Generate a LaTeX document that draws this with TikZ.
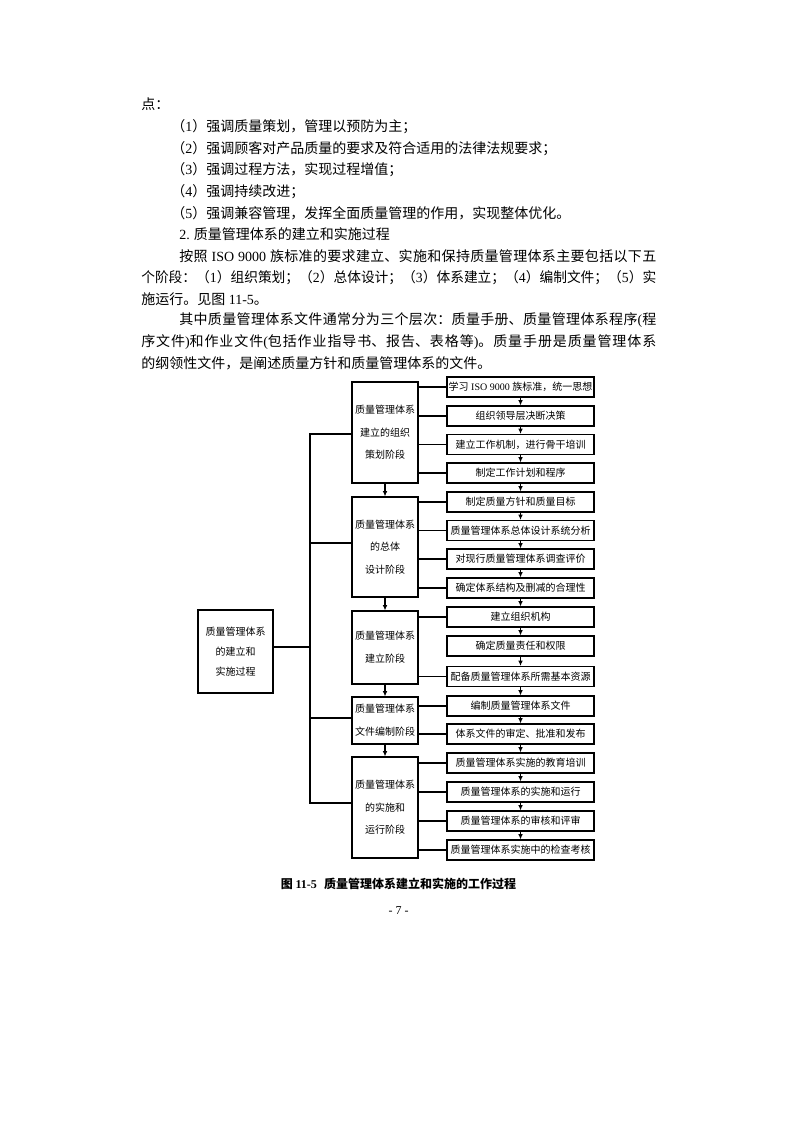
\documentclass[tikz,border=0pt]{standalone}
\usepackage{fontspec}
\usepackage{graphicx}
\setmainfont{Noto Sans CJK SC}
\newfontfamily\tnr{Liberation Serif}
\usetikzlibrary{arrows.meta}
\XeTeXlinebreaklocale "zh"
\XeTeXlinebreakskip=0pt plus 1pt
\newsavebox\jbox
\newcommand\jline[2]{\sbox\jbox{#2}\ifdim\wd\jbox>#1\relax\resizebox{#1}{\height}{\usebox\jbox}\else\parbox{#1}{\tolerance=9999\emergencystretch=0pt\parfillskip=0pt\relax #2}\fi}
\begin{document}
\begin{tikzpicture}[x=0.75pt,y=-0.75pt,
  every node/.style={inner sep=0pt},
  body/.style={anchor=west, font=\fontsize{10.5}{12}\selectfont},
  stagebox/.style={draw, line width=0.8pt, minimum width=49.5pt, align=center, font=\fontsize{7.5}{17}\selectfont},
  mainbox/.style={draw, line width=0.8pt, minimum width=56.25pt, minimum height=62.25pt, align=center, font=\fontsize{7.5}{15}\selectfont},
  rowbox/.style={draw, line width=0.8pt, minimum width=110.25pt, minimum height=15pt, font=\fontsize{7.5}{9}\selectfont},
  ln/.style={line width=0.8pt},
  arr/.style={line width=0.8pt, -{Latex[length=4pt,width=3.5pt]}},
]
\fill[white] (0,0) rectangle (794,1123);
\useasboundingbox (0,0) rectangle (794,1123);

% ---- body text ----
\node[body] (t0) at (141,104) {点：};
\node[body] (t1) at (171,127) {（{\tnr 1}）强调质量策划，管理以预防为主；};
\node[body] (t2) at (171,148.5) {（{\tnr 2}）强调顾客对产品质量的要求及符合适用的法律法规要求；};
\node[body] (t3) at (171,170) {（{\tnr 3}）强调过程方法，实现过程增值；};
\node[body] (t4) at (171,191.5) {（{\tnr 4}）强调持续改进；};
\node[body] (t5) at (171,213) {（{\tnr 5}）强调兼容管理，发挥全面质量管理的作用，实现整体优化。};
\node[body] (t6) at (179,234.5) {{\tnr 2.} 质量管理体系的建立和实施过程};
\node[body] (t7) at (179,256) {\jline{357.75pt}{按照\hspace{3pt}{\tnr ISO 9000}\hspace{3pt}族标准的要求建立、实施和保持质量管理体系主要包括以下五}};
\node[body] (t8) at (141,277.5) {\jline{386.25pt}{个阶段：（{\tnr 1}）组织策划；（{\tnr 2}）总体设计；（{\tnr 3}）体系建立；（{\tnr 4}）编制文件；（{\tnr 5}）实}};
\node[body] (t9) at (141,299) {施运行。见图{\tnr\ 11-5}。};
\node[body] (t10) at (179,320.5) {\jline{357.75pt}{其中质量管理体系文件通常分为三个层次：质量手册、质量管理体系程序{\tnr (}程}};
\node[body] (t11) at (141,342) {\jline{386.25pt}{序文件{\tnr )}和作业文件{\tnr (}包括作业指导书、报告、表格等{\tnr )}。质量手册是质量管理体系}};
\node[body] (t12) at (141,363.5) {的纲领性文件，是阐述质量方针和质量管理体系的文件。};

% ---- main box ----
\node[mainbox] (M) at (235.5,651.5) {质量管理体系\\的建立和\\实施过程};

% ---- stage boxes ----
\node[stagebox, minimum height=75.75pt] (S1) at (385,432.5) {质量管理体系\\建立的组织\\策划阶段};
\node[stagebox, minimum height=75pt] (S2) at (385,547) {质量管理体系\\的总体\\设计阶段};
\node[stagebox, minimum height=54.75pt] (S3) at (385,647.5) {质量管理体系\\建立阶段};
\node[stagebox, minimum height=35.25pt] (S4) at (385,720.5) {质量管理体系\\文件编制阶段};
\node[stagebox, minimum height=75.75pt] (S5) at (385,807.5) {质量管理体系\\的实施和\\运行阶段};

% ---- right boxes ----
\node[rowbox] (r1) at (520.5,387) {学习{\tnr\ ISO 9000\ }族标准，统一思想};
\node[rowbox] (r2) at (520.5,416) {组织领导层决断决策};
\node[rowbox] (r3) at (520.5,444.5) {建立工作机制，进行骨干培训};
\node[rowbox] (r4) at (520.5,473) {制定工作计划和程序};
\node[rowbox] (r5) at (520.5,502) {制定质量方针和质量目标};
\node[rowbox] (r6) at (520.5,530.5) {质量管理体系总体设计系统分析};
\node[rowbox] (r7) at (520.5,559) {对现行质量管理体系调查评价};
\node[rowbox] (r8) at (520.5,588) {确定体系结构及删减的合理性};
\node[rowbox] (r9) at (520.5,617) {建立组织机构};
\node[rowbox] (r10) at (520.5,646) {确定质量责任和权限};
\node[rowbox] (r11) at (520.5,676.5) {配备质量管理体系所需基本资源};
\node[rowbox] (r12) at (520.5,706) {编制质量管理体系文件};
\node[rowbox] (r13) at (520.5,734) {体系文件的审定、批准和发布};
\node[rowbox] (r14) at (520.5,763) {质量管理体系实施的教育培训};
\node[rowbox] (r15) at (520.5,792) {质量管理体系的实施和运行};
\node[rowbox] (r16) at (520.5,821) {质量管理体系的审核和评审};
\node[rowbox] (r17) at (520.5,850) {质量管理体系实施中的检查考核};

% ---- bus ----
\coordinate (bt) at (310,434);
\coordinate (bb) at (310,803);
\coordinate (b2) at (310,543);
\coordinate (b4) at (310,718);
\coordinate (bm) at (310,647);
\draw[ln] (S1.west |- bt) -- (bt) -- (bb) -- (S5.west |- bb);
\draw[ln] (S2.west |- b2) -- (b2);
\draw[ln] (S4.west |- b4) -- (b4);
\draw[ln] (M.east |- bm) -- (bm);

% ---- stage to row connectors ----
\foreach \s/\r in {S1/r1,S1/r2,S1/r3,S1/r4,S2/r5,S2/r6,S2/r7,S2/r8,S3/r9,S3/r11,S4/r12,S4/r13,S5/r14,S5/r15,S5/r16,S5/r17}
  \draw[ln] (\r.west) -- (\r.west -| \s.east);

% ---- arrows ----
\foreach \a/\b in {S1/S2,S2/S3,S3/S4,S4/S5}
  \draw[arr] (\a.south) -- (\b.north);
\foreach \a/\b in {r1/r2,r2/r3,r3/r4,r4/r5,r5/r6,r6/r7,r7/r8,r8/r9,r9/r10,r10/r11,r11/r12,r12/r13,r13/r14,r14/r15,r15/r16,r16/r17}
  \draw[arr] (\a.south) -- (\b.north);

% ---- caption and page number ----
\node[font=\fontsize{9}{11}\selectfont\bfseries] (cap) at (398.5,884) {图 {\tnr\bfseries 11-5}\hspace{0.6em}质量管理体系建立和实施的工作过程};
\node[font=\tnr\fontsize{9}{11}\selectfont] (pg) at (398.5,911) {- 7 -};
\end{tikzpicture}
\end{document}
